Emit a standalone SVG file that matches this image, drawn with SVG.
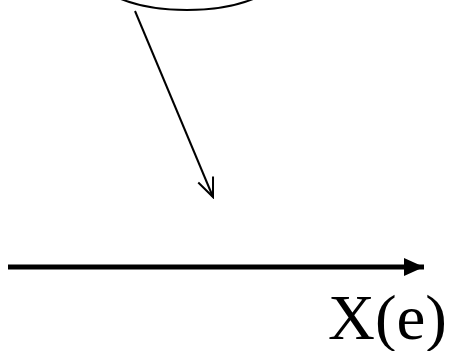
<svg xmlns="http://www.w3.org/2000/svg" width="451" height="351" viewBox="0 0 451 351">
<defs>
<style>
.ln{stroke:#000;fill:none}
.lbl{font-family:"Liberation Serif","Times New Roman",serif;font-size:64px;fill:#000}
</style>
<marker id="open" viewBox="0 0 24 24" refX="22" refY="12" markerWidth="24" markerHeight="24" markerUnits="userSpaceOnUse" orient="auto">
<path d="M3,4 L22,12 L3,20" fill="none" stroke="#000" stroke-width="2"/>
</marker>
<marker id="solid" viewBox="0 0 20 18" refX="20" refY="9" markerWidth="20" markerHeight="18" markerUnits="userSpaceOnUse" orient="auto">
<path d="M0,0 L20,9 L0,18 Z" fill="#000"/>
</marker>
</defs>
<rect width="451" height="351" fill="#fff"/>
<g id="ellipse"><ellipse class="ln" cx="187" cy="-30" rx="96" ry="40" stroke-width="2"/></g>
<g id="connectors">
<line class="ln" x1="135" y1="11" x2="213" y2="197" stroke-width="2" marker-end="url(#open)"/>
<line class="ln" x1="8" y1="267" x2="424" y2="267" stroke-width="5" marker-end="url(#solid)"/>
</g>
<g id="label"><text class="lbl" x="328" y="339" textLength="119" lengthAdjust="spacingAndGlyphs">X(e)</text></g>
</svg>
